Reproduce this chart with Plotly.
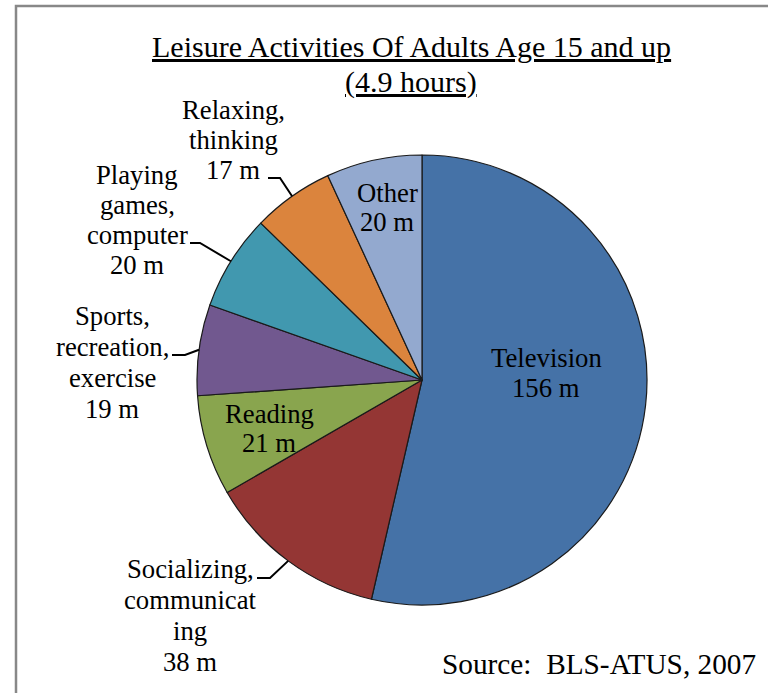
import math
import plotly.graph_objects as go

# ---- data ----
categories = ["Television", "Socializing, communicating", "Reading",
              "Sports, recreation, exercise", "Playing games, computer",
              "Relaxing, thinking", "Other"]
minutes = [156, 38, 21, 19, 20, 17, 20]
label_lines = [
    ["Television", "156 m"],
    ["Socializing,", "communicat", "ing", "38 m"],
    ["Reading", "21 m"],
    ["Sports,", "recreation,", "exercise", "19 m"],
    ["Playing", "games,", "computer", "20 m"],
    ["Relaxing,", "thinking", "17 m"],
    ["Other", "20 m"],
]
colors = ["#4572A7", "#943634", "#89A54E", "#71588F", "#4198AF", "#DB843D", "#93A9CF"]
title_lines = ["Leisure Activities Of Adults Age 15 and up", "(4.9 hours)"]
source_text = "Source:&nbsp; BLS-ATUS, 2007"

# ---- layout geometry (window pixels) ----
W, H = 768, 693
CX, CY, R = 422, 380, 225
FONT = "Liberation Serif, Times New Roman, serif"

# label block: (center x, first line middle y, line step)
label_pos = [
    (546, 358, 30),
    (190, 569, 31),
    (269, 414, 29),
    (112, 316, 31),
    (137, 175, 30),
    (233, 110, 30),
    (387, 193, 29),
]
# leader knee / start points for outside labels (None for inside labels)
leaders = [None, (270, 578, 257), None, (185, 355, 172), (200, 243, 190), (280, 178, 268), None]


def px(x):
    return x / W


def py(y):
    return 1 - y / H


fig = go.Figure(go.Pie(
    labels=categories,
    values=minutes,
    sort=False,
    direction="clockwise",
    rotation=0,
    textinfo="none",
    marker=dict(colors=colors, line=dict(color="#1a1a1a", width=1.2)),
    domain=dict(x=[px(CX - R), px(CX + R)], y=[py(CY + R), py(CY - R)]),
    showlegend=False,
))

annotations = []
shapes = []

# title
for i, t in enumerate(title_lines):
    annotations.append(dict(
        x=px(411), y=py(47 + 35 * i), xref="paper", yref="paper",
        text="<u>%s</u>" % t, showarrow=False, xanchor="center", yanchor="middle",
        font=dict(family=FONT, size=30, color="black")))

# slice labels
for (x0, y0, step), lines in zip(label_pos, label_lines):
    for j, ln in enumerate(lines):
        annotations.append(dict(
            x=px(x0), y=py(y0 + step * j), xref="paper", yref="paper",
            text=ln, showarrow=False, xanchor="center", yanchor="middle",
            font=dict(family=FONT, size=26.7, color="black")))

# leader lines, end point computed from slice mid-angle
total = sum(minutes)
cum = 0
for v, ld in zip(minutes, leaders):
    mid = (cum + v / 2) / total * 2 * math.pi
    cum += v
    if ld is None:
        continue
    ex = CX + R * math.sin(mid)
    ey = CY - R * math.cos(mid)
    kx, ky, sx = ld
    path = "M %f,%f L %f,%f L %f,%f" % (px(sx), py(ky), px(kx), py(ky), px(ex), py(ey))
    shapes.append(dict(type="path", xref="paper", yref="paper", path=path,
                       line=dict(color="black", width=2)))

# source
annotations.append(dict(
    x=px(440), y=py(664), xref="paper", yref="paper", text=source_text,
    showarrow=False, xanchor="left", yanchor="middle",
    font=dict(family=FONT, size=29.3, color="black")))

# outer frame
shapes.append(dict(type="rect", xref="paper", yref="paper",
                   x0=px(16), y0=py(6), x1=1.05, y1=-0.05,
                   line=dict(color="#888888", width=2.5), layer="below"))

fig.update_layout(
    width=W, height=H, autosize=False,
    margin=dict(l=0, r=0, t=0, b=0),
    paper_bgcolor="white", plot_bgcolor="white",
    annotations=annotations, shapes=shapes,
)

fig.write_html("out.html",
               config={"displayModeBar": False},
               post_script="document.body.style.margin='0';document.body.style.overflow='hidden';")
